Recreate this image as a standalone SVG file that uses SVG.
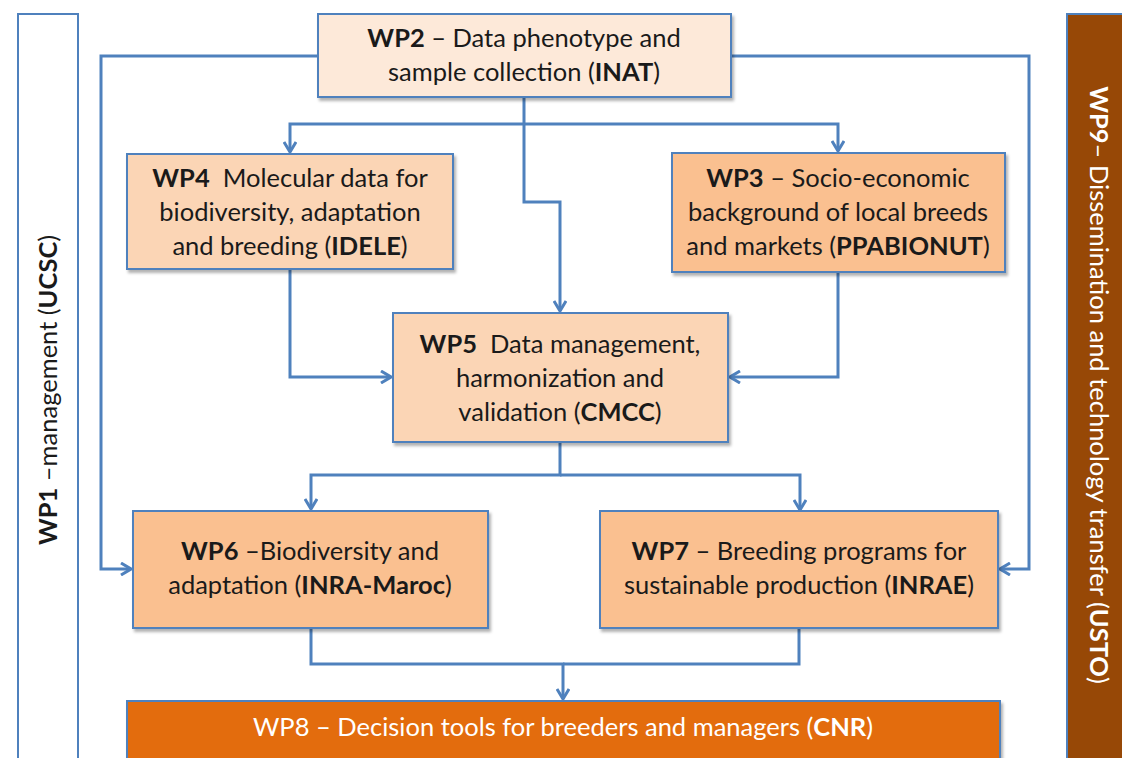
<svg xmlns="http://www.w3.org/2000/svg" width="1122" height="758" viewBox="0 0 1122 758">
<style>
.box{stroke:#4f81bd;stroke-width:2;filter:url(#sh)}
.t{font-family:Lato,"Open Sans",sans-serif;font-size:25.5px;fill:#1a1a1a;text-anchor:middle}
.b{font-weight:bold}
.w{fill:#ffffff}
.c{fill:none;stroke:#4f81bd;stroke-width:3}
</style>
<defs>
<filter id="sh" x="-5%" y="-5%" width="115%" height="120%">
<feDropShadow dx="2" dy="3" stdDeviation="1.5" flood-color="#000" flood-opacity="0.3"/>
</filter>
<marker id="a" viewBox="0 0 12 14" refX="11" refY="7" markerWidth="12" markerHeight="14" markerUnits="userSpaceOnUse" orient="auto">
<path d="M1,1 L11,7 L1,13" fill="none" stroke="#4f81bd" stroke-width="3"/>
</marker>
</defs>
<rect width="1122" height="758" fill="#ffffff"/>
<g id="wp1">
<rect class="box" x="18" y="14" width="60" height="760" fill="#ffffff" style="filter:none"/>
<text class="t" transform="translate(57,390) rotate(-90)"><tspan class="b">WP1</tspan> –management (<tspan class="b">UCSC</tspan>)</text>
</g>
<g id="wp9">
<rect class="box" x="1067" y="14" width="70" height="760" fill="#974806" style="filter:none"/>
<text class="t w" transform="translate(1090,385) rotate(90)"><tspan class="b">WP9</tspan>– Dissemination and technology transfer (<tspan class="b">USTO</tspan>)</text>
</g>
<g id="connectors">
<path class="c" d="M318,56 H101 V569 H131" marker-end="url(#a)"/>
<path class="c" d="M731,56 H1029 V569 H1000" marker-end="url(#a)"/>
<path class="c" d="M524,97 V202 H560 V311" marker-end="url(#a)"/>
<path class="c" d="M524,124 H290 V152" marker-end="url(#a)"/>
<path class="c" d="M524,124 H838 V151" marker-end="url(#a)"/>
<path class="c" d="M290,269 V377 H391" marker-end="url(#a)"/>
<path class="c" d="M838,272 V377 H730" marker-end="url(#a)"/>
<path class="c" d="M560,442 V475 H311 V509" marker-end="url(#a)"/>
<path class="c" d="M560,475 H800 V510" marker-end="url(#a)"/>
<path class="c" d="M311,628 V664 H563 V699" marker-end="url(#a)"/>
<path class="c" d="M799,628 V664 H563"/>
</g>
<g id="wp2">
<rect class="box" x="318" y="14" width="413" height="83" fill="#fde9d9"/>
<text class="t" x="524" y="47"><tspan class="b">WP2</tspan> – Data phenotype and</text>
<text class="t" x="524" y="81">sample collection (<tspan class="b">INAT</tspan>)</text>
</g>
<g id="wp4">
<rect class="box" x="127" y="154" width="326" height="115" fill="#fbd5b5"/>
<text class="t" x="290" y="187"><tspan class="b">WP4</tspan>&#160; Molecular data for</text>
<text class="t" x="290" y="221">biodiversity, adaptation</text>
<text class="t" x="290" y="255">and breeding (<tspan class="b">IDELE</tspan>)</text>
</g>
<g id="wp3">
<rect class="box" x="672" y="153" width="333" height="119" fill="#fac090"/>
<text class="t" x="838" y="187"><tspan class="b">WP3</tspan> – Socio-economic</text>
<text class="t" x="838" y="221">background of local breeds</text>
<text class="t" x="838" y="255">and markets (<tspan class="b">PPABIONUT</tspan>)</text>
</g>
<g id="wp5">
<rect class="box" x="393" y="313" width="335" height="129" fill="#fbd5b5"/>
<text class="t" x="560" y="353"><tspan class="b">WP5</tspan>&#160; Data management,</text>
<text class="t" x="560" y="387">harmonization and</text>
<text class="t" x="560" y="421">validation (<tspan class="b">CMCC</tspan>)</text>
</g>
<g id="wp6">
<rect class="box" x="133" y="511" width="355" height="117" fill="#fac090"/>
<text class="t" x="310" y="560"><tspan class="b">WP6</tspan> –Biodiversity and</text>
<text class="t" x="310" y="594">adaptation (<tspan class="b">INRA-Maroc</tspan>)</text>
</g>
<g id="wp7">
<rect class="box" x="600" y="511" width="398" height="117" fill="#fac090"/>
<text class="t" x="799" y="560"><tspan class="b">WP7</tspan> – Breeding programs for</text>
<text class="t" x="799" y="594">sustainable production (<tspan class="b">INRAE</tspan>)</text>
</g>
<g id="wp8">
<rect class="box" x="127" y="701" width="873" height="70" fill="#e36c09"/>
<text class="t w" x="563" y="736">WP8 – Decision tools for breeders and managers (<tspan class="b">CNR</tspan>)</text>
</g>
</svg>
